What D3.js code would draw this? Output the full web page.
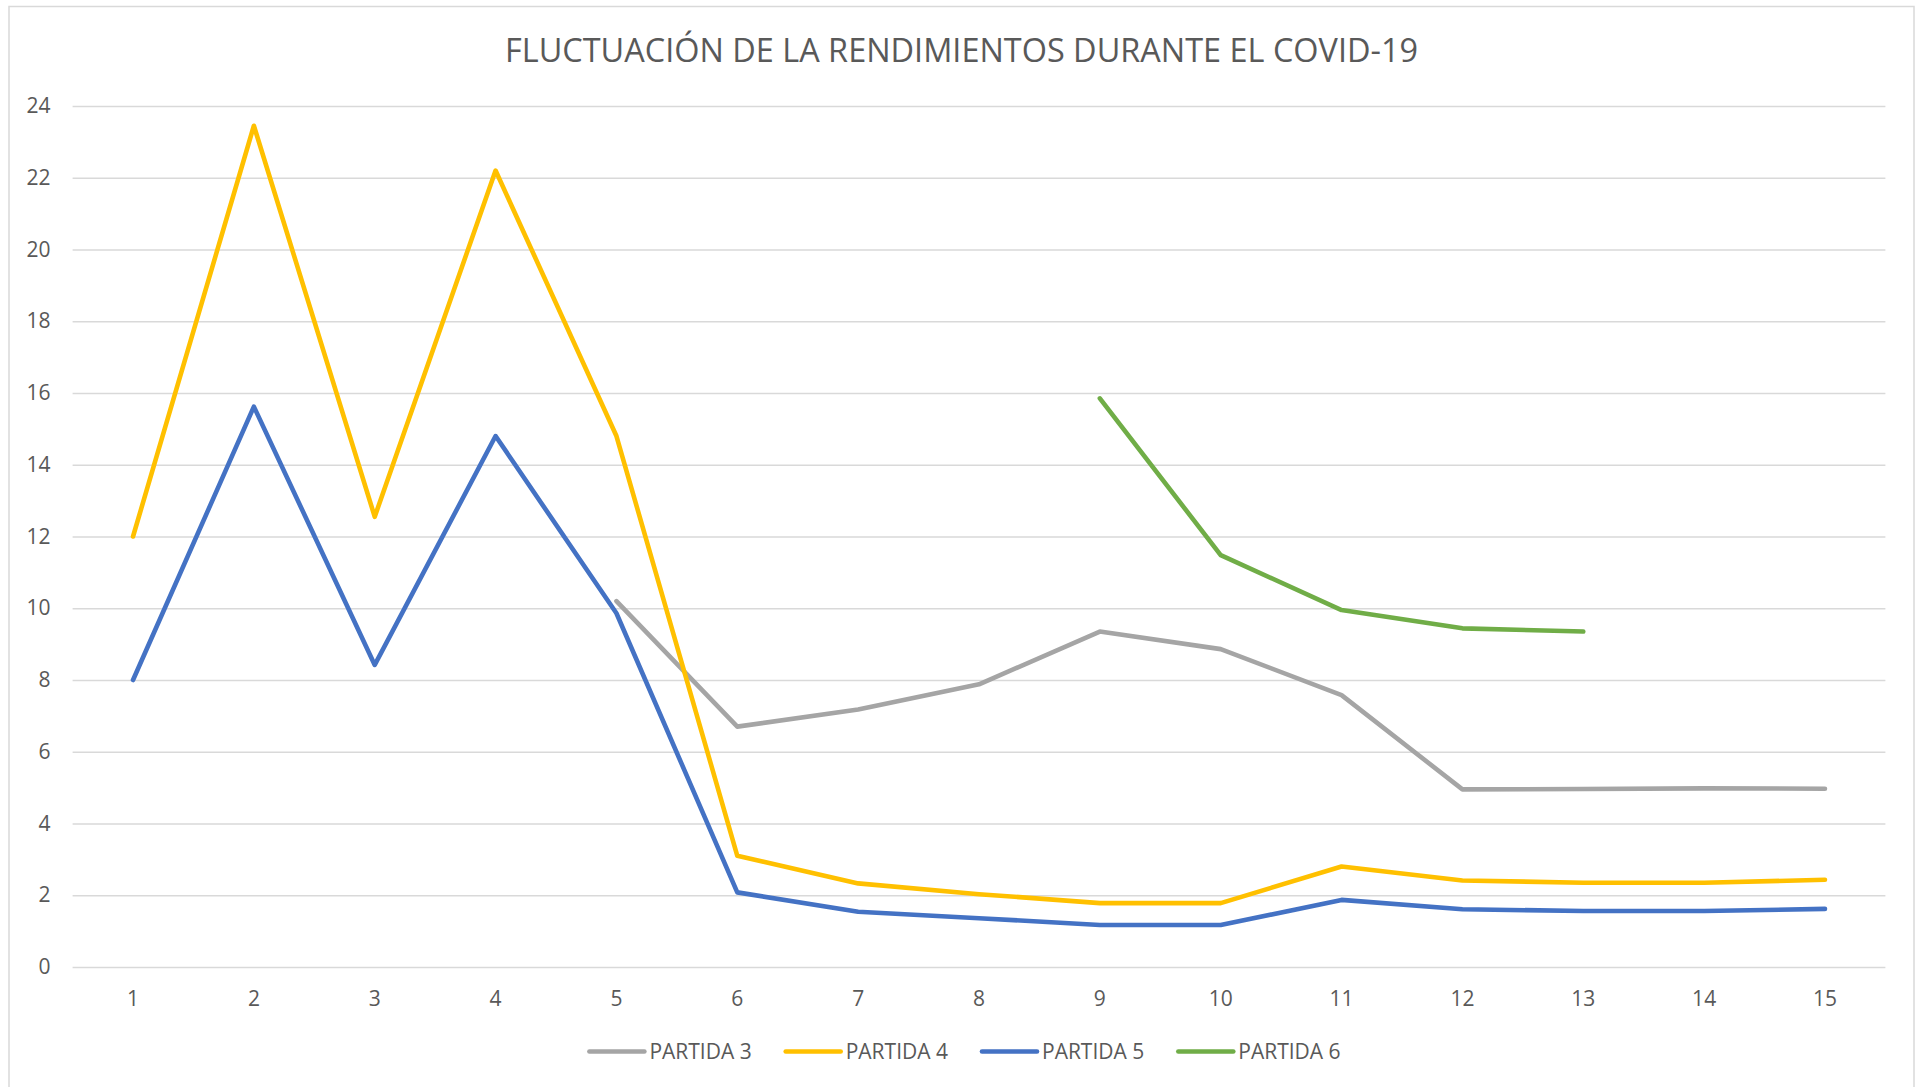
<!DOCTYPE html>
<html>
<head>
<meta charset="utf-8">
<script src="https://cdn.jsdelivr.net/npm/d3@7"></script>
<style>
  html, body { margin: 0; padding: 0; background: #ffffff; }
  svg { display: block; }
  text { font-family: "Open Sans", "Noto Sans", sans-serif; fill: #595959; }
</style>
</head>
<body>
<svg id="chart" width="1919" height="1087"></svg>
<script>
const title = "FLUCTUACIÓN DE LA RENDIMIENTOS DURANTE EL COVID-19";
const categories = ["1","2","3","4","5","6","7","8","9","10","11","12","13","14","15"];
const yTicks = [0, 2, 4, 6, 8, 10, 12, 14, 16, 18, 20, 22, 24];
const seriesNames = ["PARTIDA 3", "PARTIDA 4", "PARTIDA 5", "PARTIDA 6"];
const seriesColors = ["#A5A5A5", "#FFC000", "#4472C4", "#70AD47"];
const partida3 = [null, null, null, null, 10.2, 6.7, 7.18, 7.88, 9.35, 8.86, 7.58, 4.95, 4.96, 4.98, 4.97];
const partida4 = [12.0, 23.45, 12.55, 22.2, 14.8, 3.1, 2.33, 2.03, 1.78, 1.78, 2.8, 2.41, 2.35, 2.35, 2.43];
const partida5 = [8.0, 15.62, 8.42, 14.8, 9.86, 2.08, 1.54, 1.36, 1.17, 1.17, 1.87, 1.61, 1.56, 1.56, 1.62];
const partida6 = [null, null, null, null, null, null, null, null, 15.85, 11.48, 9.95, 9.44, 9.35, null, null];
const seriesValues = [partida3, partida4, partida5, partida6];

const svg = d3.select("#chart");

// chart frame
svg.append("rect")
  .attr("x", 9).attr("y", 6.5)
  .attr("width", 1905).attr("height", 1100)
  .attr("fill", "#ffffff")
  .attr("stroke", "#D9D9D9").attr("stroke-width", 1.5);

const x = d3.scaleBand().domain(categories).range([72.6, 1885.4]).padding(0);
const y = d3.scaleLinear().domain([0, 24]).range([967, 106]);

// gridlines + y labels
const yAxis = d3.axisLeft(y).tickValues(yTicks).tickSize(-(1885.4 - 72.6)).tickPadding(22).tickFormat(d3.format("d"));
const gy = svg.append("g").attr("transform", "translate(72.6,0)").call(yAxis);
gy.select(".domain").remove();
gy.selectAll(".tick line").attr("stroke", "#D9D9D9").attr("stroke-width", 1.5);
gy.selectAll(".tick text").attr("font-size", 21).attr("fill", "#595959")
  .style("font-family", "'Open Sans', sans-serif");

// x axis labels
const xAxis = d3.axisBottom(x).tickSize(0).tickPadding(24);
const gx = svg.append("g").attr("transform", "translate(0,967)").call(xAxis);
gx.select(".domain").remove();
gx.selectAll(".tick text").attr("font-size", 21).attr("fill", "#595959")
  .style("font-family", "'Open Sans', sans-serif");

// lines
const line = d3.line()
  .defined(d => d != null)
  .x((d, i) => x(categories[i]) + x.bandwidth() / 2)
  .y(d => y(d));

seriesValues.forEach((vals, si) => {
  svg.append("path")
    .datum(vals)
    .attr("fill", "none")
    .attr("stroke", seriesColors[si])
    .attr("stroke-width", 4.6)
    .attr("stroke-linejoin", "round")
    .attr("stroke-linecap", "round")
    .attr("d", line);
});

// title
svg.append("text")
  .attr("x", 961.5).attr("y", 62)
  .attr("text-anchor", "middle")
  .attr("font-size", 33)
  .attr("textLength", 913)
  .attr("lengthAdjust", "spacingAndGlyphs")
  .text(title);

// legend
const legend = svg.append("g");
const swatchW = 55, gap = 5, itemGap = 34;
let cx = 0;
seriesNames.forEach((name, i) => {
  const g = legend.append("g");
  g.append("line")
    .attr("x1", 0).attr("x2", swatchW)
    .attr("y1", 1051.5).attr("y2", 1051.5)
    .attr("stroke", seriesColors[i]).attr("stroke-width", 4.6)
    .attr("stroke-linecap", "round");
  const t = g.append("text")
    .attr("x", swatchW + gap).attr("y", 1059)
    .attr("font-size", 21)
    .text(name);
  const tw = t.node().getComputedTextLength();
  g.attr("transform", `translate(${cx},0)`);
  cx += swatchW + gap + tw + itemGap;
});
const totalW = cx - itemGap;
legend.attr("transform", `translate(${965 - totalW / 2},0)`);
</script>
</body>
</html>
